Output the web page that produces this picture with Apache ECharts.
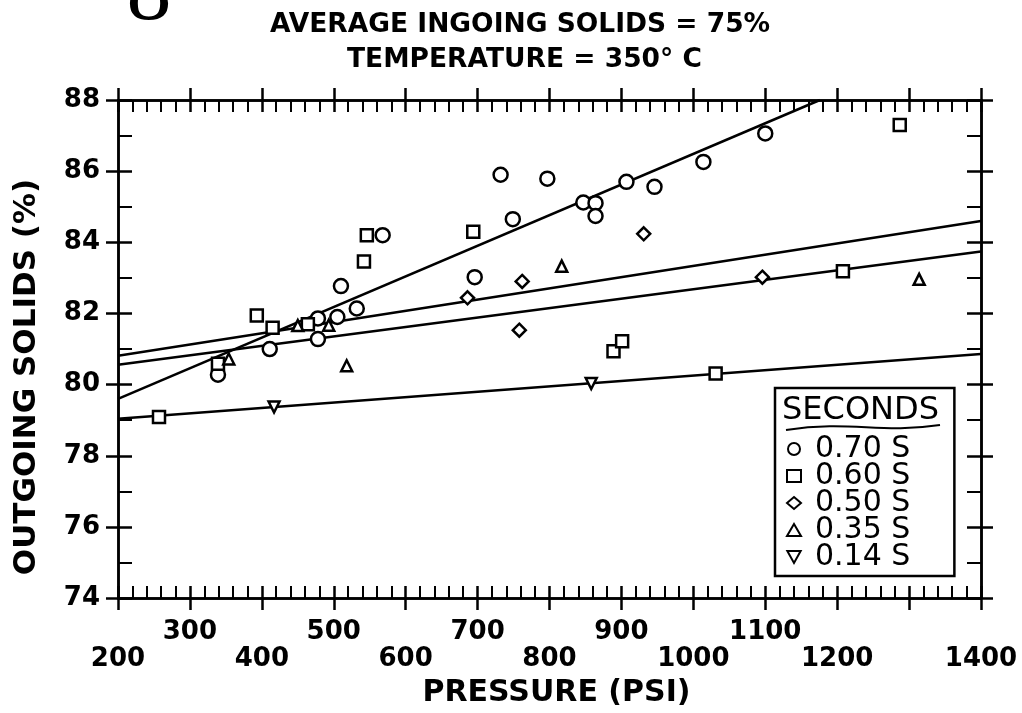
<!DOCTYPE html>
<html>
<head>
<meta charset="utf-8">
<title>Outgoing solids vs pressure</title>
<script src="https://cdn.jsdelivr.net/npm/echarts@6/dist/echarts.min.js"></script>
<style>
  html, body { margin: 0; padding: 0; background: #fff; }
  #main { width: 1022px; height: 713px; }
</style>
</head>
<body>
<div id="main"></div>
<script>
var FONT = 'DejaVu Sans';

// axis ticks
var xTicks = [200, 300, 400, 500, 600, 700, 800, 900, 1000, 1100, 1200, 1300, 1400];
var yTicks = [74, 76, 78, 80, 82, 84, 86, 88];

// residence time groups, [pressure psi, outgoing solids %]
var seriesNames = ['0.70 S', '0.60 S', '0.50 S', '0.35 S', '0.14 S'];
var s070 = [[339, 80.28], [411, 81.0], [478, 81.86], [478, 81.28], [505, 81.9], [510, 82.77],
  [532, 82.14], [568, 84.2], [696, 83.02], [732, 85.9], [749, 84.65], [797, 85.79],
  [847, 85.12], [864, 85.1], [864, 84.74], [907, 85.7], [946, 85.56], [1014, 86.26], [1100, 87.06]];
var s060 = [[257, 79.09], [339, 80.59], [393, 81.94], [415, 81.6], [464, 81.7], [542, 83.46],
  [546, 84.2], [694, 84.3], [889, 80.94], [901, 81.22], [1031, 80.31], [1208, 83.19], [1287, 87.3]];
var s050 = [[686, 82.44], [758, 81.53], [762, 82.9], [931, 84.24], [1096, 83.02]];
var s035 = [[354, 80.72], [450, 81.66], [493, 81.67], [518, 80.53], [817, 83.33], [1314, 82.96]];
var s014 = [[417, 79.37], [858, 80.03]];

// fitted lines, end points
var fitA = [[200, 79.6], [1176, 88]];
var fitB = [[200, 80.81], [1400, 84.6]];
var fitC = [[200, 80.56], [1400, 83.74]];
var fitD = [[200, 79.04], [1400, 80.86]];

var chart = echarts.init(document.getElementById('main'), null, { renderer: 'canvas' });

function xAxis(pos, inside, labels) {
  var ax = {
    type: 'value',
    position: pos,
    min: xTicks[0],
    max: xTicks[xTicks.length - 1],
    interval: 100,
    splitLine: { show: false },
    axisLine: { onZero: false, lineStyle: { color: '#000', width: 2.5 } },
    axisTick: { inside: inside, length: 12, lineStyle: { color: '#000', width: 2.5 } },
    minorTick: { show: inside, splitNumber: 5, length: 12, lineStyle: { color: '#000', width: 2 } },
    axisLabel: { show: false }
  };
  if (labels) {
    ax.axisLabel = {
      show: true,
      margin: 21,
      fontFamily: FONT,
      fontWeight: 'bold',
      fontSize: 26,
      color: '#000',
      lineHeight: 27,
      showMinLabel: true,
      showMaxLabel: true,
      // odd hundreds sit on the upper row, even hundreds on the lower row
      formatter: function (v) {
        return (v / 100) % 2 ? v + '\n ' : ' \n' + v;
      }
    };
    ax.name = 'PRESSURE (PSI)';
    ax.nameLocation = 'middle';
    ax.nameGap = 73;
    ax.nameTextStyle = { fontFamily: FONT, fontWeight: 'bold', fontSize: 30, color: '#000', padding: [0, 0, 0, 14] };
  }
  return ax;
}

function yAxis(pos, inside, labels) {
  var ax = {
    type: 'value',
    position: pos,
    min: yTicks[0],
    max: yTicks[yTicks.length - 1],
    interval: 2,
    splitLine: { show: false },
    axisLine: { onZero: false, lineStyle: { color: '#000', width: 2.5 } },
    axisTick: { inside: inside, length: inside ? 14 : 12, lineStyle: { color: '#000', width: 2.5 } },
    minorTick: { show: inside, splitNumber: 2, length: 14, lineStyle: { color: '#000', width: 2 } },
    axisLabel: { show: false }
  };
  if (labels) {
    ax.axisLabel = { show: true, margin: 18, fontFamily: FONT, fontWeight: 'bold', fontSize: 26, color: '#000' };
  }
  return ax;
}

function scatter(name, data, symbol, size) {
  return {
    name: name,
    type: 'scatter',
    data: data,
    symbol: symbol,
    symbolSize: size,
    z: 5,
    itemStyle: { color: '#fff', borderColor: '#000', borderWidth: 2.5, opacity: 1 }
  };
}

function fit(name, data) {
  return {
    name: name,
    type: 'line',
    data: data,
    symbol: 'none',
    silent: true,
    z: 3,
    lineStyle: { color: '#000', width: 2.5 }
  };
}

var option = {
  animation: false,
  backgroundColor: '#fff',
  title: [
    { text: 'AVERAGE INGOING SOLIDS = 75%', left: 270, top: 12, padding: 0,
      textStyle: { fontFamily: FONT, fontSize: 26.5, fontWeight: 'bold', color: '#000' } },
    { text: 'TEMPERATURE = 350\u00b0 C', left: 347, top: 47, padding: 0,
      textStyle: { fontFamily: FONT, fontSize: 26.5, fontWeight: 'bold', color: '#000' } }
  ],
  grid: { left: 118, right: 41, top: 100, bottom: 108 },
  xAxis: [
    xAxis('bottom', true, true),
    xAxis('bottom', false, false),
    xAxis('top', true, false),
    xAxis('top', false, false)
  ],
  yAxis: [
    yAxis('left', true, true),
    yAxis('left', false, false),
    yAxis('right', true, false),
    yAxis('right', false, false)
  ],
  legend: {
    data: seriesNames,
    orient: 'vertical',
    left: 775,
    top: 388,
    padding: [46, 44, 4, 11],
    itemGap: -3,
    itemWidth: 14,
    itemHeight: 12,
    itemTextGap: 5,
    selectedMode: false,
    borderColor: '#000',
    borderWidth: 2.5,
    backgroundColor: '#fff',
    z: 10,
    textStyle: { fontFamily: FONT, fontSize: 30, color: '#000', lineHeight: 27, padding: [0, 0, 0, 9] }
  },
  graphic: [
    {
      type: 'text', x: 149, y: 40, z: 20,
      style: { text: '8', fontFamily: 'Liberation Serif', fontSize: 90, fill: '#000',
        align: 'center', verticalAlign: 'bottom' }
    },
    {
      type: 'text', x: 27, y: 377, rotation: Math.PI / 2, z: 20,
      style: { text: 'OUTGOING SOLIDS (%)', fontFamily: FONT, fontWeight: 'bold', fontSize: 31, fill: '#000',
        align: 'center', verticalAlign: 'middle' }
    },
    {
      type: 'text', x: 782, y: 411, z: 20,
      style: { text: 'SECONDS', fontFamily: FONT, fontSize: 32, fill: '#000',
        align: 'left', verticalAlign: 'middle' }
    },
    {
      type: 'bezierCurve', z: 20,
      shape: { x1: 786, y1: 430, cpx1: 850, cpy1: 420, cpx2: 880, cpy2: 434, x2: 940, y2: 425 },
      style: { stroke: '#000', lineWidth: 2, fill: null }
    }
  ],
  series: [
    fit('fit A', fitA),
    fit('fit B', fitB),
    fit('fit C', fitC),
    fit('fit D', fitD),
    scatter(seriesNames[0], s070, 'circle', 14),
    scatter(seriesNames[1], s060, 'rect', 12),
    scatter(seriesNames[2], s050, 'diamond', 13),
    scatter(seriesNames[3], s035, 'triangle', 11),
    scatter(seriesNames[4], s014, 'path://M0,0L10,0L5,9Z', 11)
  ]
};

chart.setOption(option);
</script>
</body>
</html>
